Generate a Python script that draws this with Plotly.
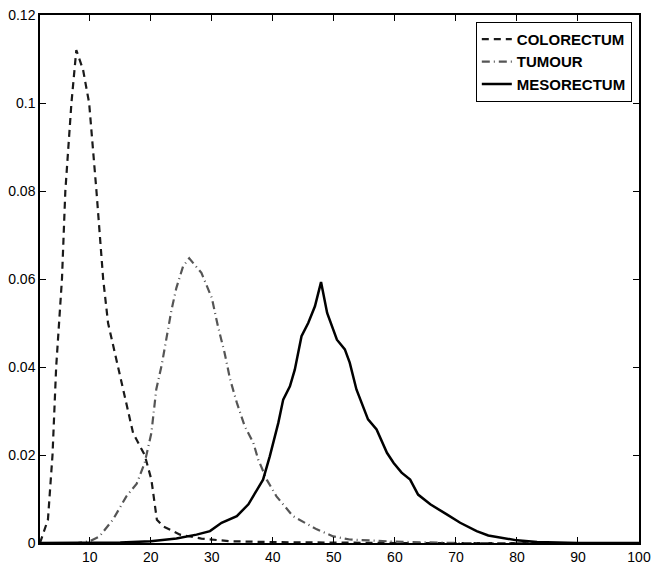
import plotly.graph_objects as go

# ---- data ----
colorectum_x = [1.85, 2.3, 3.15, 3.9, 4.5, 5.45, 6.0, 7.0, 7.8, 8.9, 9.9, 11.1, 12.2, 13.0,
                14.6, 16.3, 17.1, 19.0, 20.1, 21.0, 22.0, 24.8, 28.3, 33, 40, 50, 60, 100]
colorectum_y = [0, 0.002, 0.0053, 0.02, 0.04, 0.06, 0.08, 0.1, 0.112, 0.1076, 0.1, 0.08, 0.06, 0.05,
                0.04, 0.0297, 0.025, 0.02, 0.0144, 0.0053, 0.0038, 0.0019, 0.001, 0.0004, 0.0002,
                0.0001, 0, 0]

tumour_x = [1.85, 8, 10, 11.6, 13.8, 16.0, 17.7, 19.0, 20.1, 20.9, 21.8, 22.6, 23.4, 24.2, 25.3,
            26.3, 28.3, 30.0, 31.0, 32.1, 33.0, 34.1, 35.4, 36.8, 37.6, 39.0, 40.6, 43.3, 47.2,
            49.9, 52.6, 60, 70, 100]
tumour_y = [0, 0, 0.0004, 0.0015, 0.0053, 0.0106, 0.0135, 0.0182, 0.025, 0.0349, 0.0405, 0.0465,
            0.053, 0.058, 0.0629, 0.0647, 0.0614, 0.0557, 0.0493, 0.0432, 0.0372, 0.0319, 0.0265,
            0.0228, 0.019, 0.0144, 0.0106, 0.0061, 0.0031, 0.0015, 0.0008, 0.0003, 0, 0]

mesorectum_x = [1.85, 10, 15, 20, 24.2, 27.5, 29.7, 31.6, 34.1, 36.0, 38.4, 39.5, 40.9, 41.7,
                42.8, 43.6, 44.7, 45.8, 46.9, 47.9, 48.9, 50.5, 51.8, 52.6, 53.7, 55.6, 57.0,
                58.7, 59.8, 61.1, 62.5, 63.8, 65.8, 68.5, 70.7, 73.4, 75.3, 80, 83.3, 90, 100]
mesorectum_y = [0, 0, 0.0001, 0.0004, 0.001, 0.0019, 0.0027, 0.0046, 0.0061, 0.0088, 0.0144,
                0.0197, 0.0273, 0.0326, 0.0356, 0.0394, 0.047, 0.05, 0.0538, 0.0593, 0.0523,
                0.0462, 0.044, 0.041, 0.0349, 0.0281, 0.0258, 0.0205, 0.0182, 0.016, 0.0144,
                0.011, 0.0088, 0.0065, 0.0046, 0.0027, 0.0017, 0.0006, 0.0002, 0, 0]

x_ticks = [10, 20, 30, 40, 50, 60, 70, 80, 90, 100]
y_ticks = [0, 0.02, 0.04, 0.06, 0.08, 0.1, 0.12]

fig = go.Figure()
fig.add_trace(go.Scatter(x=colorectum_x, y=colorectum_y, mode="lines", name="COLORECTUM",
                         line=dict(color="#1a1a1a", width=2.2, dash="7px,5px")))
fig.add_trace(go.Scatter(x=tumour_x, y=tumour_y, mode="lines", name="TUMOUR",
                         line=dict(color="#555555", width=2.2, dash="8px,4px,1px,4px")))
fig.add_trace(go.Scatter(x=mesorectum_x, y=mesorectum_y, mode="lines", name="MESORECTUM",
                         line=dict(color="#000000", width=2.5)))

axis_common = dict(showline=True, linecolor="black", linewidth=1.5, mirror="ticks",
                   ticks="inside", ticklen=6, tickcolor="black", tickwidth=1,
                   showgrid=False, zeroline=False, automargin=False,
                   tickfont=dict(family="Liberation Sans, Arial, sans-serif", size=14, color="black"))

fig.update_layout(
    width=652, height=564,
    margin=dict(l=40, r=13, t=15, b=21),
    paper_bgcolor="white", plot_bgcolor="white",
    xaxis=dict(range=[1.85, 100], tickvals=x_ticks, **axis_common),
    yaxis=dict(range=[0, 0.12], tickvals=y_ticks, **axis_common),
    legend=dict(x=0.988, y=0.987, xanchor="right", yanchor="top",
                bgcolor="white", bordercolor="black", borderwidth=1,
                font=dict(family="Liberation Sans, Arial, sans-serif", size=15, color="black",
                          weight="bold"),
                tracegroupgap=0),
    showlegend=True,
)

# remove the default 8px page margin so the figure fills the window exactly
fig.write_html("out.html", config={"displayModeBar": False},
               post_script="document.body.style.margin='0';")
